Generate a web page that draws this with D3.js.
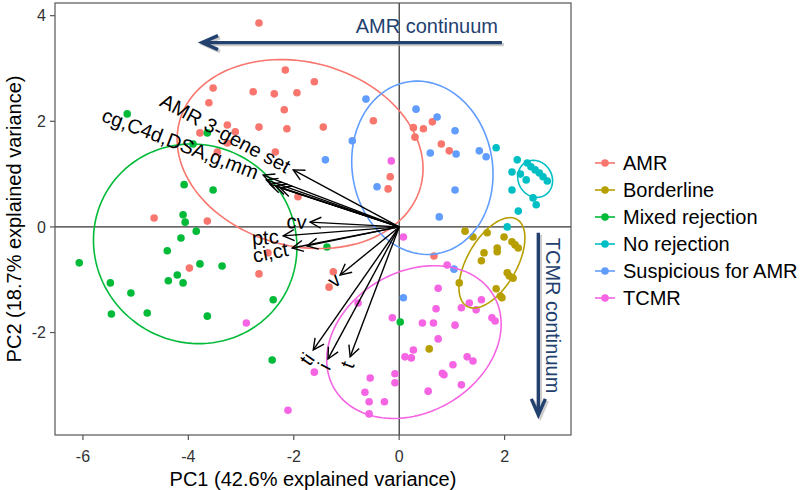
<!DOCTYPE html>
<html><head><meta charset="utf-8">
<script src="https://cdn.jsdelivr.net/npm/d3@7"></script>
<style>body{margin:0;background:#fff} text{font-family:"Liberation Sans",Arial,sans-serif}</style>
</head><body><svg id="c" width="800" height="490"></svg>
<script>
// ---------- data ----------
const groups = ["AMR","Borderline","Mixed rejection","No rejection","Suspicious for AMR","TCMR"];
const colors = ["#F8766D","#B79F00","#00BA38","#00BFC4","#619CFF","#F564E3"];

const amrPC1 = [-3.53,-3.61,-3.78,-3.26,-3.26,-3.11,-3.45,-4.65,-2.66,-2.16,-1.61,-2.77,-2.37,-1.94,-2.18,-0.49,-2.66,-2.13,-1.44,-2.35,-0.17,-0.21,-1.92,0.63,0.27,0.46,0.30,0.80,0.95,0.66,-3.64,-3.98,-2.49,-2.66,-1.25,-1.33];
const amrPC2 = [2.63,2.35,1.78,1.93,1.59,1.80,1.42,0.17,3.86,2.97,2.75,2.56,2.52,2.54,2.22,2.01,1.89,1.86,1.89,1.42,0.95,0.72,0.57,1.99,1.88,1.86,1.70,1.57,1.44,-0.55,0.11,-0.78,-0.49,-0.89,-0.85,-1.14];
const borderPC1 = [1.25,1.40,1.67,1.99,2.14,2.20,2.26,1.86,1.86,1.61,1.56,2.05,2.09,2.16,1.14,1.84,1.92,1.95,0.57];
const borderPC2 = [-0.08,-0.19,-0.11,-0.19,-0.28,-0.34,-0.40,-0.40,-0.47,-0.49,-0.64,-0.87,-0.93,-0.97,-1.06,-1.17,-1.31,-1.34,-2.31];
const mixedPC1 = [-5.16,-3.64,-3.91,-4.08,-3.53,-4.10,-4.06,-3.85,-4.14,-4.40,-6.07,-3.78,-3.36,-4.21,-4.38,-4.10,-5.48,-5.09,-5.46,-4.78,-3.64,-1.37,-2.39,-2.41,0.02];
const mixedPC2 = [2.14,1.78,1.57,0.80,0.70,0.23,0.09,-0.08,-0.21,-0.45,-0.68,-0.70,-0.74,-0.91,-1.02,-1.06,-1.06,-1.25,-1.65,-1.63,-1.69,-0.38,-1.38,-2.52,-1.80];
const noRejPC1 = [1.84,2.24,2.14,2.30,2.41,2.43,2.50,2.58,2.66,2.73,2.81,2.14,2.54,2.60,2.26,2.05];
const noRejPC2 = [1.50,1.27,1.04,1.00,0.89,1.21,1.14,1.08,1.02,0.95,0.87,0.70,0.55,0.42,0.30,0.00];
const suspPC1 = [-0.63,-0.89,-1.40,-0.42,0.32,0.72,1.06,0.59,1.08,1.52,1.65,1.06,0.76,1.04,0.08];
const suspPC2 = [2.42,1.63,1.27,0.76,2.23,2.08,1.82,1.40,1.38,1.44,1.33,0.70,0.19,-0.80,-1.34];
const tcmrPC1 = [-0.15,0.08,0.91,0.74,1.56,1.33,1.46,1.18,0.70,-0.13,0.44,0.65,1.06,1.76,1.82,0.74,0.27,0.11,0.23,1.29,1.40,1.02,-0.08,-0.08,0.82,0.85,1.18,0.55,-2.90,-0.78,-1.61,-0.55,-0.65,-0.57,-0.28,-2.11,-0.57];
const tcmrPC2 = [1.25,-0.19,-0.72,-1.16,-1.38,-1.44,-1.57,-1.53,-1.55,-1.72,-1.82,-1.82,-1.86,-1.72,-1.78,-2.12,-2.33,-2.46,-2.48,-2.46,-2.54,-2.61,-2.78,-2.95,-2.77,-2.80,-2.99,-3.11,-1.82,-1.44,-2.75,-2.86,-3.13,-3.31,-3.31,-3.47,-3.54];

// normal-probability ellipses (centre, semi-axes, rotation in degrees)
const ellCx    = [-1.88, 1.76, -3.87, 2.58, 0.44, 0.28];
const ellCy    = [ 1.38,-0.68, -0.32, 0.91, 1.12,-2.18];
const ellRx    = [ 2.37, 0.95,  1.95, 0.36, 1.33, 1.75];
const ellRy    = [ 1.74, 0.47,  1.87, 0.32, 1.65, 1.33];
const ellAngle = [  -15,   60,   -30,  -60,   10,   30];

// variable loadings
const loadNames = ["AMR 3-gene set","cg","C4d","DSA","g","mm","cv","ptc","ci","ct","v","ti","i","t"];
const loadPC1 = [-2.01,-2.58,-2.52,-2.45,-2.35,-2.26,-1.69,-2.20,-2.03,-1.75,-1.12,-1.63,-1.35,-0.93];
const loadPC2 = [ 1.08, 0.98, 0.89, 0.81, 0.78, 0.74, 0.09,-0.17,-0.40,-0.36,-0.91,-2.33,-2.50,-2.46];
const labelTexts = ["AMR 3-gene set","cg,C4d,DSA,g,mm","cv","ptc","ci,ct","v","ti","i","t"];
const labelMembers = [[0],[1,2,3,4,5],[6],[7],[8,9],[10],[11],[12],[13]];

const xTicks = [-6,-4,-2,0,2];
const yTicks = [-2,0,2,4];
const xTitle = "PC1 (42.6% explained variance)";
const yTitle = "PC2 (18.7% explained variance)";
const amrText = "AMR continuum", tcmrText = "TCMR continuum";
// continuum annotations in data units
const amrArrowX = [1.95,-3.74], amrArrowY = 3.49;
const tcmrArrowX = 2.64, tcmrArrowY = [-0.11,-3.56];

// ---------- build ----------
const pc1 = [amrPC1,borderPC1,mixedPC1,noRejPC1,suspPC1,tcmrPC1];
const pc2 = [amrPC2,borderPC2,mixedPC2,noRejPC2,suspPC2,tcmrPC2];
const points = [];
groups.forEach((g,i)=>pc1[i].forEach((v,j)=>points.push({g:i,x:v,y:pc2[i][j]})));

const L=55,R=571,T=3,B=435;
const x = d3.scaleLinear().domain([-6.53,3.26]).range([L,R]);
const y = d3.scaleLinear().domain([-3.94,4.24]).range([B,T]);
const svg = d3.select("#c");
const navy = "#23416f";

svg.append("defs").append("marker").attr("id","ah")
  .attr("viewBox","-13 -7 15 14").attr("refX",0).attr("refY",0)
  .attr("markerWidth",15).attr("markerHeight",14).attr("markerUnits","userSpaceOnUse")
  .attr("orient","auto")
  .append("path").attr("d","M-11,-5.5 L0,0 L-11,5.5").attr("fill","none").attr("stroke","#000").attr("stroke-width",1.4);

// zero lines
svg.append("line").attr("x1",L).attr("x2",R).attr("y1",y(0)).attr("y2",y(0)).attr("stroke","#000").attr("stroke-width",1);
svg.append("line").attr("x1",x(0)).attr("x2",x(0)).attr("y1",T).attr("y2",B).attr("stroke","#000").attr("stroke-width",1);

// points
svg.append("g").selectAll("circle").data(points).join("circle")
  .attr("cx",d=>x(d.x)).attr("cy",d=>y(d.y)).attr("r",3.8).attr("fill",d=>colors[d.g]);

// ellipses
const line = d3.line().x(d=>x(d[0])).y(d=>y(d[1]));
groups.forEach((g,i)=>{
  const th = ellAngle[i]*Math.PI/180, pts=[];
  for(let k=0;k<=120;k++){
    const t=2*Math.PI*k/120, dx=ellRx[i]*Math.cos(t), dy=ellRy[i]*Math.sin(t);
    pts.push([ellCx[i]+dx*Math.cos(th)-dy*Math.sin(th), ellCy[i]+dx*Math.sin(th)+dy*Math.cos(th)]);
  }
  svg.append("path").attr("d",line(pts)).attr("fill","none").attr("stroke",colors[i]).attr("stroke-width",1.6);
});

// loading arrows
svg.append("g").selectAll("line").data(loadNames).join("line")
  .attr("x1",x(0)).attr("y1",y(0))
  .attr("x2",(d,i)=>x(loadPC1[i])).attr("y2",(d,i)=>y(loadPC2[i]))
  .attr("stroke","#000").attr("stroke-width",1.4).attr("marker-end","url(#ah)");

labelTexts.forEach((t,i)=>{
  const k0 = labelMembers[i][0];
  const px = x(loadPC1[k0]*1.04), py = y(loadPC2[k0]*1.04);
  const ang = Math.atan2(-(py-y(0)), -(px-x(0)))*180/Math.PI;
  svg.append("text").attr("transform",`translate(${px},${py}) rotate(${ang})`)
    .attr("text-anchor","end").attr("dominant-baseline","central")
    .attr("font-size",20).attr("fill","#000").text(t);
});

// panel border
svg.append("rect").attr("x",L).attr("y",T).attr("width",R-L).attr("height",B-T)
  .attr("fill","none").attr("stroke","#555").attr("stroke-width",1.2);

// axes
svg.append("g").selectAll("line").data(xTicks).join("line")
  .attr("x1",d=>x(d)).attr("x2",d=>x(d)).attr("y1",B).attr("y2",B+5).attr("stroke","#555").attr("stroke-width",1.2);
svg.append("g").selectAll("text").data(xTicks).join("text")
  .attr("x",d=>x(d)).attr("y",B+27).attr("text-anchor","middle").attr("font-size",16).attr("fill","#333").text(d=>d);
svg.append("g").selectAll("line").data(yTicks).join("line")
  .attr("x1",L-5).attr("x2",L).attr("y1",d=>y(d)).attr("y2",d=>y(d)).attr("stroke","#555").attr("stroke-width",1.2);
svg.append("g").selectAll("text").data(yTicks).join("text")
  .attr("x",L-9).attr("y",d=>y(d)).attr("dy","0.35em").attr("text-anchor","end").attr("font-size",16).attr("fill","#333").text(d=>d);
svg.append("text").attr("x",(L+R)/2).attr("y",486).attr("text-anchor","middle").attr("font-size",20).attr("fill","#000").text(xTitle);
svg.append("text").attr("transform",`translate(21,${(T+B)/2}) rotate(-90)`).attr("text-anchor","middle").attr("font-size",20).attr("fill","#000").text(yTitle);

// continuum annotations
function bigArrow(x1,y1,x2,y2){
  const ang=Math.atan2(y2-y1,x2-x1), hl=16, hw=7;
  const bx=x2-hl*Math.cos(ang), by=y2-hl*Math.sin(ang);
  const p=`M${x1},${y1}L${x2},${y2}M${bx-hw*Math.sin(ang)},${by+hw*Math.cos(ang)}L${x2},${y2}L${bx+hw*Math.sin(ang)},${by-hw*Math.cos(ang)}`;
  svg.append("path").attr("d",p).attr("transform","translate(2,2)").attr("fill","none").attr("stroke","#b8b8b8").attr("stroke-width",3.4).attr("opacity",0.7);
  svg.append("path").attr("d",p).attr("fill","none").attr("stroke",navy).attr("stroke-width",3.4).attr("stroke-linejoin","miter");
}
bigArrow(x(amrArrowX[0]),y(amrArrowY),x(amrArrowX[1]),y(amrArrowY));
bigArrow(x(tcmrArrowX),y(tcmrArrowY[0]),x(tcmrArrowX),y(tcmrArrowY[1]));
svg.append("text").attr("x",x(amrArrowX[0])-4).attr("y",y(amrArrowY)-10).attr("text-anchor","end")
  .attr("font-size",20).attr("fill",navy).text(amrText);
svg.append("text").attr("transform",`translate(${x(tcmrArrowX)+8},${y(tcmrArrowY[0])+5}) rotate(90)`)
  .attr("text-anchor","start").attr("font-size",20).attr("fill",navy).text(tcmrText);

// legend
const lg = svg.append("g");
groups.forEach((g,i)=>{
  const cy = 163 + i*27;
  lg.append("line").attr("x1",595).attr("x2",615).attr("y1",cy).attr("y2",cy).attr("stroke",colors[i]).attr("stroke-width",1.6);
  lg.append("circle").attr("cx",605).attr("cy",cy).attr("r",3.8).attr("fill",colors[i]);
  lg.append("text").attr("x",623).attr("y",cy).attr("dy","0.35em").attr("font-size",20).attr("fill","#000").text(g);
});
</script></body></html>
